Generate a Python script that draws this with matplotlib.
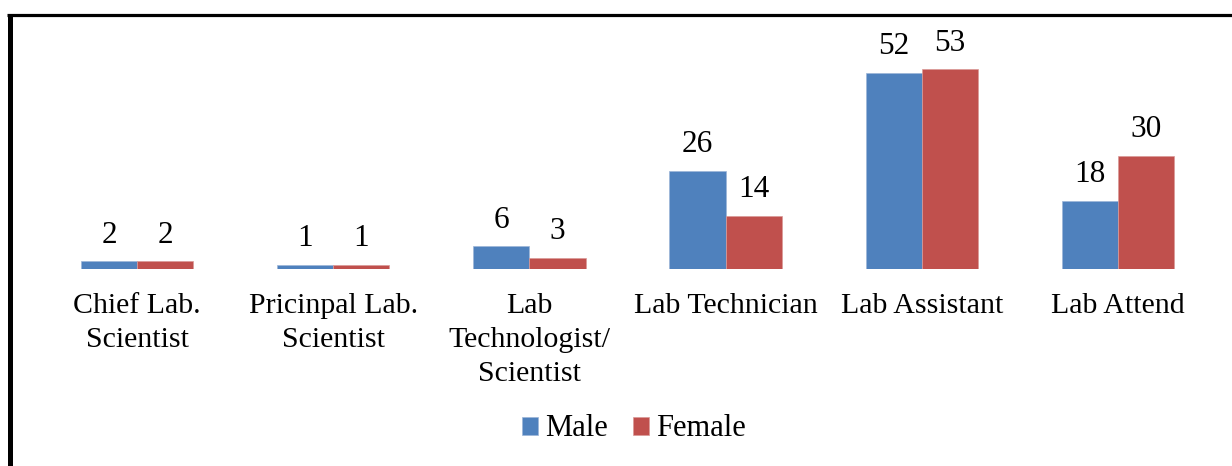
"""
Grouped bar chart of lab staff by gender.
"""

import matplotlib.pyplot as plt
import numpy as np
from matplotlib.lines import Line2D

plt.rcParams["font.family"] = ["Liberation Serif", "DejaVu Serif"]

categories = ["Chief Lab.\nScientist", "Pricinpal Lab.\nScientist",
              "Lab\nTechnologist/\nScientist", "Lab Technician",
              "Lab Assistant", "Lab Attend"]
male = [2, 1, 6, 26, 52, 18]
female = [2, 1, 3, 14, 53, 30]

blue = "#4F81BD"
red = "#C0504D"

W, H = 1232, 466
fig = plt.figure(figsize=(W / 100, H / 100), dpi=100)
ax = fig.add_axes([39 / W, 197 / H, 1177 / W, 226 / H])

x = np.arange(len(categories))
w = 0.286
b1 = ax.bar(x - w / 2, male, w, color=blue, edgecolor="#9DB6D8", linewidth=0.5,
            label="Male")
b2 = ax.bar(x + w / 2, female, w, color=red, edgecolor="#DA9A98", linewidth=0.5,
            label="Female")

for bars in (b1, b2):
    for rect in bars:
        ax.annotate(f"{rect.get_height():g}",
                    (rect.get_x() + rect.get_width() / 2, rect.get_height()),
                    xytext=(0, 8.5), textcoords="offset points",
                    ha="center", va="bottom", fontsize=22.5)

ax.set_xlim(-0.5, len(categories) - 0.5)
ax.set_ylim(0, 60)
ax.set_xticks(x)
ax.set_xticklabels(categories, fontsize=21.5, linespacing=1.42)
ax.tick_params(axis="x", length=0, pad=17)
ax.set_yticks([])
for sp in ax.spines.values():
    sp.set_visible(False)

fig.legend(handles=[b1, b2], loc="center", bbox_to_anchor=(634 / W, 1 - 429 / H),
           ncol=2, frameon=False, fontsize=22, handlelength=0.52,
           handleheight=0.52, handletextpad=0.26, columnspacing=0.8)

# outer frame (cut off at right and bottom)
fig.add_artist(Line2D([9.5 / W, 9.5 / W], [0, 1 - 14.5 / H], transform=fig.transFigure,
                      color="black", linewidth=3.6, solid_capstyle="butt"))
fig.add_artist(Line2D([7 / W, 1], [1 - 14.5 / H, 1 - 14.5 / H],
                      transform=fig.transFigure, color="black", linewidth=2.3,
                      solid_capstyle="butt"))

plt.savefig("out.png", dpi=100)
